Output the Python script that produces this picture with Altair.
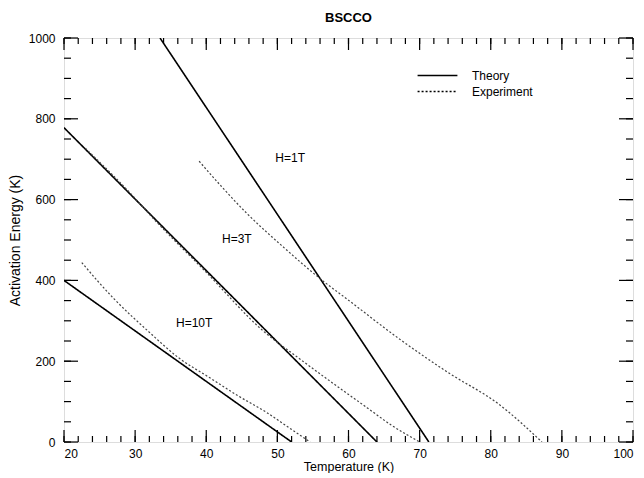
import altair as alt
import pandas as pd

# ---- data ----
theory_1T_T = [33.5, 71.3]
theory_1T_E = [1000, 0]
theory_3T_T = [20, 64.0]
theory_3T_E = [778, 0]
theory_10T_T = [20, 52.0]
theory_10T_E = [400, 0]

exp_1T_T = [39.0, 45.7, 51.0, 56.1, 60.0, 67.0, 74.0, 81.1, 87.2]
exp_1T_E = [695, 566, 480, 403, 351, 257, 172, 94, 0]
exp_3T_T = [23.0, 30.0, 32.1, 40.0, 48.0, 53.2, 58.0, 62.6, 66.0, 70.0]
exp_3T_E = [727, 603, 562, 420, 275, 205, 143, 85, 42, 0]
exp_10T_T = [22.5, 27.0, 32.1, 36.0, 40.5, 44.5, 48.5, 51.5, 54.6]
exp_10T_E = [444, 355, 270, 210, 159, 114, 73, 37, 0]

label_text = ["H=1T", "H=3T", "H=10T"]
label_T = [51.8, 44.3, 38.3]
label_E = [703, 502, 295]

x_major = list(range(20, 101, 10))
x_minor = list(range(20, 101, 2))
y_major = list(range(0, 1001, 200))
y_minor = list(range(0, 1001, 50))

def frame(kind, series):
    rows = []
    for h, ts, es in series:
        for t, e in zip(ts, es):
            rows.append({"T": t, "E": e, "kind": kind, "H": h})
    return pd.DataFrame(rows)

df_th = frame("Theory", [("1T", theory_1T_T, theory_1T_E),
                         ("3T", theory_3T_T, theory_3T_E),
                         ("10T", theory_10T_T, theory_10T_E)])
df_ex = frame("Experiment", [("1T", exp_1T_T, exp_1T_E),
                             ("3T", exp_3T_T, exp_3T_E),
                             ("10T", exp_10T_T, exp_10T_E)])

W, H = 569, 404
FONT = "Liberation Sans"

xs = alt.Scale(domain=[20, 100], nice=False, zero=False)
ys = alt.Scale(domain=[0, 1000], nice=False, zero=False)

x_enc = alt.X("T:Q", scale=xs, title="Temperature (K)",
              axis=alt.Axis(values=x_major, ticks=False, domain=False, grid=False,
                            labelPadding=6, titlePadding=1, labelFontSize=12,
                            titleFontSize=12.5, titleFontWeight="normal",
                            labelColor="black", titleColor="black",
                            labelFont=FONT, titleFont=FONT, format="d"))
y_enc = alt.Y("E:Q", scale=ys, title="Activation Energy (K)",
              axis=alt.Axis(values=y_major, ticks=False, domain=False, grid=False,
                            labelPadding=9, titlePadding=6, labelFontSize=12,
                            titleFontSize=14, titleFontWeight="normal",
                            labelColor="black", titleColor="black",
                            labelFont=FONT, titleFont=FONT, format="d"))

dash = alt.StrokeDash("kind:N",
    scale=alt.Scale(domain=["Theory", "Experiment"], range=[[1, 0], [2, 2]]),
    legend=alt.Legend(title=None, orient="none", legendX=364, legendY=28,
                      symbolType="M-2.3,0H2.3", symbolSize=300,
                      symbolStrokeColor="black", symbolStrokeWidth=1.3,
                      labelFontSize=12, labelFont=FONT, labelColor="black",
                      rowPadding=0, labelOffset=25))

theory = alt.Chart(df_th).mark_line(color="black", strokeWidth=1.6, clip=True).encode(
    x=x_enc, y=y_enc, detail="H:N", strokeDash=dash)
experiment = alt.Chart(df_ex).mark_line(color="#444444", strokeWidth=1.2,
                                        interpolate="monotone", clip=True).encode(
    x=x_enc, y=y_enc, detail="H:N", strokeDash=dash)

labels = alt.Chart(pd.DataFrame({"T": label_T, "E": label_E, "txt": label_text})).mark_text(
    font=FONT, fontSize=12, color="black", align="center", baseline="middle"
).encode(x="T:Q", y="E:Q", text="txt:N")

def xticks(vals, length):
    d = pd.DataFrame({"T": vals})
    bot = alt.Chart(d).mark_rule(color="black", strokeWidth=1.2).encode(
        x="T:Q", y=alt.value(H), y2=alt.value(H - length))
    top = alt.Chart(d).mark_rule(color="black", strokeWidth=1.2).encode(
        x="T:Q", y=alt.value(0), y2=alt.value(length))
    return [bot, top]

def yticks(vals, length):
    d = pd.DataFrame({"E": vals})
    left = alt.Chart(d).mark_rule(color="black", strokeWidth=1.2).encode(
        y="E:Q", x=alt.value(0), x2=alt.value(length))
    right = alt.Chart(d).mark_rule(color="black", strokeWidth=1.2).encode(
        y="E:Q", x=alt.value(W), x2=alt.value(W - length))
    return [left, right]

layers = [theory, experiment, labels] + xticks(x_minor, 6) + xticks(x_major, 12) \
    + yticks(y_minor, 7) + yticks(y_major, 14)

chart = alt.layer(*layers).properties(
    width=W, height=H,
    padding={"top": 4, "left": 0, "right": 0, "bottom": 0},
    title=alt.Title("BSCCO", font=FONT, fontSize=13, fontWeight="bold",
                    color="black", offset=7),
).configure_view(stroke="black", strokeWidth=1.5).configure(background="white")

chart.save("out.html", embed_options={"renderer": "svg", "actions": False})
